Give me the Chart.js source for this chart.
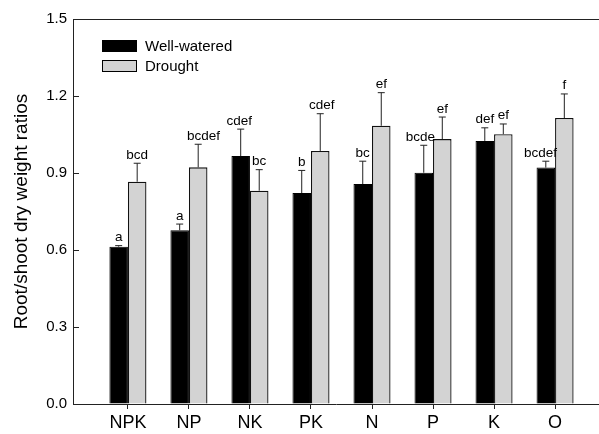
<!DOCTYPE html>
<html>
<head>
<meta charset="utf-8">
<script src="https://cdn.jsdelivr.net/npm/chart.js@4"></script>
<style>
    body { margin: 0; background: #fff; }
    canvas { display: block; }
</style>
</head>
<body>
<canvas id="chart" width="599" height="434"></canvas>
<script>
const categories = ["NPK", "NP", "NK", "PK", "N", "P", "K", "O"];
const wellWatered = [0.613, 0.677, 0.966, 0.822, 0.857, 0.901, 1.025, 0.921];
const wellWateredErr = [0.004, 0.024, 0.105, 0.088, 0.089, 0.107, 0.051, 0.025];
const drought = [0.866, 0.922, 0.831, 0.986, 1.084, 1.032, 1.051, 1.114];
const droughtErr = [0.072, 0.090, 0.082, 0.145, 0.129, 0.086, 0.040, 0.094];
const wellWateredLetters = ["a", "a", "cdef", "b", "bc", "bcde", "def", "bcdef"];
const droughtLetters = ["bcd", "bcdef", "bc", "cdef", "ef", "ef", "ef", "f"];
const yTicks = [0, 0.3, 0.6, 0.9, 1.2, 1.5];

const errors = [wellWateredErr, droughtErr];
const letters = [wellWateredLetters, droughtLetters];
const FONT = "'Liberation Sans', Arial, sans-serif";

// error bars, significance letters, top frame, inward y ticks and the legend
const extras = {
    id: "extras",
    afterDatasetsDraw(chart) {
        const ctx = chart.ctx;
        const area = chart.chartArea;
        const y = chart.scales.y;
        ctx.save();

        chart.data.datasets.forEach((ds, d) => {
            const meta = chart.getDatasetMeta(d);
            meta.data.forEach((bar, i) => {
                const top = y.getPixelForValue(ds.data[i].y + errors[d][i]);
                ctx.strokeStyle = "#222";
                ctx.lineWidth = 1;
                ctx.beginPath();
                ctx.moveTo(bar.x, bar.y);
                ctx.lineTo(bar.x, top);
                ctx.moveTo(bar.x - 3.5, top);
                ctx.lineTo(bar.x + 3.5, top);
                ctx.stroke();

                ctx.font = "13.5px " + FONT;
                ctx.fillStyle = "#000";
                ctx.textAlign = "center";
                ctx.textBaseline = "alphabetic";
                const text = letters[d][i];
                const w = ctx.measureText(text).width;
                let x = bar.x;
                if (d === 0) {
                    x = Math.min(x, bar.x + bar.width / 2 + 2 - w / 2);
                } else {
                    x = Math.max(x, bar.x - bar.width / 2 - 2 + w / 2);
                }
                ctx.fillText(text, x, top - 4.5);
            });
        });

        // top frame line
        ctx.strokeStyle = "#222";
        ctx.lineWidth = 1;
        ctx.beginPath();
        ctx.moveTo(area.left, area.top + 0.5);
        ctx.lineTo(area.right, area.top + 0.5);
        // y ticks pointing inward
        yTicks.forEach(v => {
            const py = Math.round(y.getPixelForValue(v)) + 0.5;
            ctx.moveTo(area.left, py);
            ctx.lineTo(area.left + 6, py);
        });
        ctx.stroke();

        // legend
        ctx.font = "15px " + FONT;
        ctx.textAlign = "left";
        ctx.textBaseline = "middle";
        chart.data.datasets.forEach((ds, d) => {
            const bx = area.left + 29;
            const by = area.top + 21 + d * 20;
            ctx.fillStyle = ds.backgroundColor;
            ctx.fillRect(bx, by, 35, 12);
            ctx.strokeStyle = "#000";
            ctx.lineWidth = 1;
            ctx.strokeRect(bx + 0.5, by + 0.5, 34, 11);
            ctx.fillStyle = "#000";
            ctx.fillText(ds.label, bx + 43, by + 6.5);
        });

        ctx.restore();
    }
};

const ctx = document.getElementById("chart").getContext("2d");

new Chart(ctx, {
    type: "bar",
    data: {
        datasets: [{
            label: "Well-watered",
            data: wellWatered.map((v, i) => ({ x: i, y: v })),
            backgroundColor: "#000000",
            borderColor: "#000000",
            borderWidth: 1
        }, {
            label: "Drought",
            data: drought.map((v, i) => ({ x: i, y: v })),
            backgroundColor: "#d3d3d3",
            borderColor: "#111111",
            borderWidth: 1.3
        }]
    },
    options: {
        responsive: false,
        animation: false,
        layout: { padding: { top: 19, right: 0, bottom: 0, left: 0 } },
        categoryPercentage: 0.607,
        barPercentage: 1,
        plugins: {
            legend: { display: false },
            tooltip: { enabled: false }
        },
        scales: {
            x: {
                type: "linear",
                min: -0.9,
                max: 7.72,
                offset: false,
                afterBuildTicks: scale => {
                    scale.ticks = categories.map((c, i) => ({ value: i }));
                },
                afterFit: scale => { scale.height = 30; },
                ticks: {
                    autoSkip: false,
                    maxRotation: 0,
                    padding: 3,
                    color: "#000",
                    font: { family: FONT, size: 18 },
                    callback: v => categories[v]
                },
                grid: {
                    offset: false,
                    drawOnChartArea: false,
                    tickLength: 5,
                    color: "#222"
                },
                border: { color: "#222", width: 1 }
            },
            y: {
                min: 0,
                max: 1.5,
                afterBuildTicks: scale => {
                    scale.ticks = yTicks.map(v => ({ value: v }));
                },
                afterFit: scale => { scale.width = 73; },
                ticks: {
                    padding: 6,
                    color: "#000",
                    font: { family: FONT, size: 15 },
                    callback: v => v.toFixed(1)
                },
                grid: { drawOnChartArea: false, drawTicks: false },
                border: { color: "#222", width: 1 },
                title: {
                    display: true,
                    text: "Root/shoot dry weight ratios",
                    color: "#000",
                    font: { family: FONT, size: 19 },
                    padding: { top: 10, bottom: 0 }
                }
            }
        }
    },
    plugins: [extras]
});
</script>
</body>
</html>
